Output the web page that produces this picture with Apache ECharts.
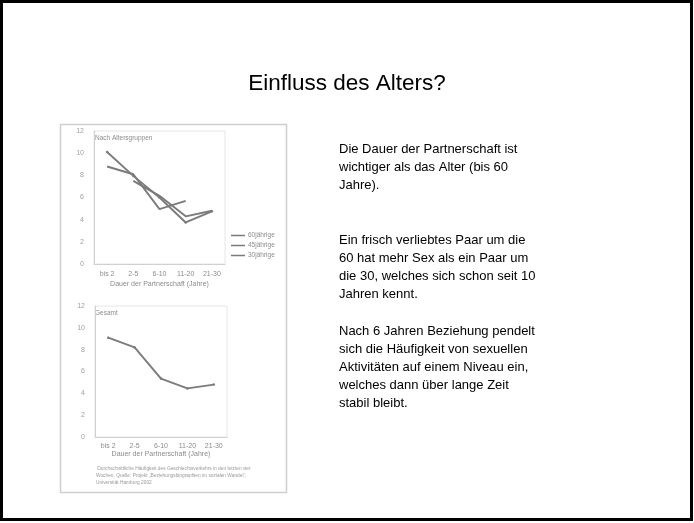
<!DOCTYPE html>
<html>
<head>
<meta charset="utf-8">
<script src="https://cdn.jsdelivr.net/npm/echarts@6/dist/echarts.min.js"></script>
<style>
  html, body { margin: 0; padding: 0; background: #fff; }
  #slide { width: 694px; height: 523px; }
</style>
</head>
<body>
<div id="slide"></div>
<script>
  // Dauer der Partnerschaft (Kategorien)
  const categories = ['bis 2', '2-5', '6-10', '11-20', '21-30']
  const yTicks = [0, 2, 4, 6, 8, 10, 12]

  // oberes Diagramm: nach Altersgruppen
  const sechzigJaehrige = [10.1, 7.95, 6.0, 3.75, 4.75]
  const fuenfundvierzigJaehrige = [null, 7.5, 6.15, 4.3, 4.8]
  const dreissigJaehrige = [8.8, 8.1, 4.95, 5.7, null]
  const legendNames = ['60jährige', '45jährige', '30jährige']

  // unteres Diagramm: Gesamt
  const gesamt = [9.1, 8.2, 5.35, 4.45, 4.8]

  const slideTitle = 'Einfluss des Alters?'
  const paragraphs = [
    'Die Dauer der Partnerschaft ist\nwichtiger als das Alter (bis 60\nJahre).',
    'Ein frisch verliebtes Paar um die\n60 hat mehr Sex als ein Paar um\ndie 30, welches sich schon seit 10\nJahren kennt.',
    'Nach 6 Jahren Beziehung pendelt\nsich die Häufigkeit von sexuellen\nAktivitäten auf einem Niveau ein,\nwelches dann über lange Zeit\nstabil bleibt.'
  ]
  const caption = [
    ' Durchschnittliche Häufigkeit des Geschlechtsverkehrs in den letzten vier',
    'Wochen. Quelle: Projekt „Beziehungsbiographien im sozialen Wandel“,',
    'Universität Hamburg 2002'
  ]

  const scanGray = '#8c8c8c'
  const lineGray = '#7b7b7b'
  const sans = '"Liberation Sans", Arial, sans-serif'

  const chart = echarts.init(document.getElementById('slide'))

  function xAxisFor(gridIndex, margin, nameGap) {
    return {
      type: 'category',
      gridIndex: gridIndex,
      data: categories,
      boundaryGap: true,
      axisLine: { lineStyle: { color: '#d0d0d0', width: 1 } },
      axisTick: { show: false },
      axisLabel: { color: scanGray, fontSize: 7, margin: margin, fontFamily: sans },
      name: 'Dauer der Partnerschaft (Jahre)',
      nameLocation: 'middle',
      nameGap: nameGap,
      nameTextStyle: { color: scanGray, fontSize: 7, fontFamily: sans }
    }
  }

  function yAxisFor(gridIndex) {
    return {
      type: 'value',
      gridIndex: gridIndex,
      min: yTicks[0],
      max: yTicks[yTicks.length - 1],
      interval: 2,
      axisLine: { show: true, lineStyle: { color: '#d0d0d0', width: 1 } },
      axisTick: { show: false },
      splitLine: { show: false },
      axisLabel: { color: '#a0a0a0', fontSize: 7, margin: 10, fontFamily: sans }
    }
  }

  function lineSeries(name, data, gridIndex, withSymbol) {
    return {
      name: name,
      type: 'line',
      xAxisIndex: gridIndex,
      yAxisIndex: gridIndex,
      data: data,
      connectNulls: false,
      symbol: withSymbol ? 'circle' : 'none',
      symbolSize: 2.5,
      lineStyle: { color: lineGray, width: 1.9 },
      itemStyle: { color: lineGray },
      silent: true
    }
  }

  const option = {
    animation: false,
    backgroundColor: '#fff',
    grid: [
      { left: 94, top: 131, width: 131, height: 133, show: true, borderColor: '#e6e6e6', borderWidth: 1 },
      { left: 95, top: 306, width: 132, height: 131, show: true, borderColor: '#e6e6e6', borderWidth: 1 }
    ],
    xAxis: [xAxisFor(0, 7, 17), xAxisFor(1, 6, 14)],
    yAxis: [yAxisFor(0), yAxisFor(1)],
    legend: {
      data: legendNames,
      orient: 'vertical',
      left: 231,
      top: 232,
      padding: 0,
      itemWidth: 14,
      itemHeight: 1.5,
      itemGap: 3,
      icon: 'rect',
      textStyle: { color: scanGray, fontSize: 6.5, fontFamily: sans, padding: [0, 0, 0, -2] }
    },
    series: [
      lineSeries(legendNames[0], sechzigJaehrige, 0, true),
      lineSeries(legendNames[1], fuenfundvierzigJaehrige, 0, false),
      lineSeries(legendNames[2], dreissigJaehrige, 0, false),
      lineSeries('Gesamt', gesamt, 1, true)
    ],
    graphic: [
      // Folienrahmen
      { type: 'rect', z: 100, silent: true,
        shape: { x: 1.5, y: 1.5, width: 690, height: 518 },
        style: { fill: null, stroke: '#000', lineWidth: 3 } },
      // Rahmen des eingescannten Bildes
      { type: 'rect', z: -1, silent: true,
        shape: { x: 60.5, y: 124.5, width: 226, height: 368 },
        style: { fill: '#fff', stroke: '#cfcfcf', lineWidth: 1.5 } },
      { type: 'text', left: 'center', top: 72, silent: true,
        style: { text: slideTitle, fill: '#000', font: '22.5px ' + sans } },
      { type: 'text', x: 95, y: 135, silent: true,
        style: { text: 'Nach Altersgruppen', fill: scanGray, font: '6.5px ' + sans } },
      { type: 'text', x: 95, y: 310, silent: true,
        style: { text: 'Gesamt', fill: scanGray, font: '6.5px ' + sans } },
      { type: 'text', x: 96, y: 465, silent: true,
        style: { text: caption.join('\n'), fill: '#999', font: '4.8px ' + sans, lineHeight: 7 } },
      { type: 'text', x: 339, y: 140, silent: true,
        style: { text: paragraphs[0], fill: '#000', font: '13px ' + sans, lineHeight: 18 } },
      { type: 'text', x: 339, y: 231, silent: true,
        style: { text: paragraphs[1], fill: '#000', font: '13px ' + sans, lineHeight: 18 } },
      { type: 'text', x: 339, y: 322, silent: true,
        style: { text: paragraphs[2], fill: '#000', font: '13px ' + sans, lineHeight: 18 } }
    ]
  }

  chart.setOption(option)
</script>
</body>
</html>
